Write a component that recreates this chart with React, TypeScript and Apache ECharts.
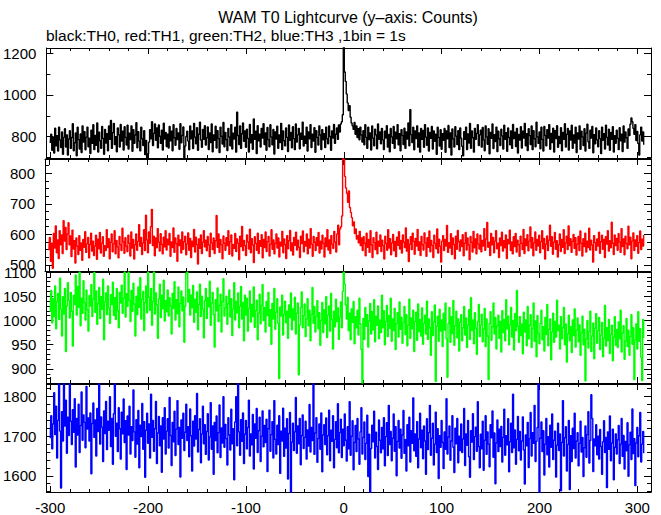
import React, { useEffect, useRef } from "react";
import * as echarts from "echarts";

// time of the first 1 s bin (seconds from T0)
const T_START = -300;

// TH0 (black) counts per 1 s bin, t = -300 .. 307
const th0 = [
  770, 812, 735, 798, 722, 841, 756, 805, 731, 846, 784, 748, 823, 716, 797, 838, 751, 809, 712, 789,
  829, 744, 796, 862, 733, 771, 818, 709, 845, 786, 741, 813, 724, 852, 775, 824, 737, 798, 846, 752,
  793, 719, 831, 768, 857, 738, 806, 759, 866, 727, 822, 781, 745, 849, 792, 716, 835, 770, 814, 733,
  851, 788, 878, 744, 819, 863, 762, 800, 728, 842, 809, 751, 859, 779, 826, 736, 848, 797, 760, 855,
  741, 817, 786, 852, 730, 833, 769, 808, 867, 747, 824, 779, 732, 846, 790, 758, 829, 714, 782, 690,
  718, 774, 833, 790, 872, 758, 816, 861, 783, 842, 747, 856, 802, 768, 831, 736, 865, 789, 820, 753,
  812, 746, 849, 781, 826, 733, 857, 795, 759, 839, 786, 818, 740, 862, 771, 806, 847, 692, 755, 801,
  826, 779, 737, 851, 790, 828, 743, 864, 798, 766, 843, 735, 812, 869, 784, 749, 835, 787, 853, 760,
  795, 847, 739, 818, 772, 861, 728, 808, 783, 850, 746, 829, 791, 724, 846, 802, 765, 868, 752, 821,
  786, 734, 840, 799, 757, 858, 741, 817, 789, 845, 726, 918, 806, 763, 852, 744, 814, 866, 778, 827,
  749, 836, 792, 727, 859, 771, 810, 740, 885, 788, 826, 719, 853, 780, 812, 751, 840, 793, 862, 763,
  818, 735, 844, 786, 752, 857, 799, 761, 835, 717, 823, 789, 850, 745, 808, 772, 864, 738, 827, 781,
  756, 842, 797, 729, 856, 783, 821, 747, 848, 791, 738, 861, 774, 809, 840, 742, 817, 788, 870, 755,
  803, 768, 846, 731, 823, 790, 858, 748, 812, 779, 843, 725, 829, 796, 760, 852, 808, 739, 834, 785,
  815, 748, 846, 790, 766, 851, 801, 735, 828, 794, 859, 768, 812, 842, 787, 856, 822, 861, 872, 905,
  1240, 1110, 1065, 1005, 962, 925, 948, 893, 866, 852, 835, 868, 812, 851, 796, 838, 785, 846, 808, 775,
  829, 761, 857, 797, 744, 845, 786, 818, 736, 851, 793, 757, 836, 809, 742, 861, 788, 823, 766, 840,
  785, 739, 826, 794, 853, 750, 811, 728, 839, 799, 768, 849, 745, 822, 790, 858, 761, 815, 733, 834,
  806, 763, 841, 744, 823, 789, 866, 757, 930, 810, 772, 845, 737, 828, 791, 852, 750, 818, 726, 839,
  787, 830, 749, 858, 798, 759, 842, 731, 821, 792, 849, 741, 827, 778, 812, 716, 845, 796, 755, 833,
  740, 815, 783, 839, 725, 827, 790, 854, 748, 818, 712, 837, 789, 751, 848, 803, 762, 829, 738, 842,
  793, 754, 708, 824, 787, 846, 739, 813, 770, 863, 745, 827, 795, 726, 840, 788, 816, 857, 758, 809,
  831, 750, 844, 785, 733, 852, 799, 764, 838, 718, 820, 792, 861, 743, 810, 777, 846, 729, 826, 790,
  758, 836, 804, 741, 855, 787, 819, 730, 842, 796, 761, 828, 744, 859, 791, 822, 753, 840, 722, 811,
  784, 848, 746, 826, 793, 864, 757, 815, 734, 838, 805, 763, 851, 738, 829, 790, 752, 869, 799, 768,
  823, 742, 845, 787, 731, 849, 806, 756, 834, 793, 858, 740, 816, 772, 841, 727, 829, 791, 853, 749,
  801, 767, 843, 733, 821, 788, 862, 751, 812, 839, 736, 827, 784, 855, 745, 808, 770, 846, 724, 818,
  789, 852, 740, 826, 799, 758, 838, 731, 817, 860, 776, 744, 831, 793, 849, 723, 810, 766, 842, 785,
  752, 829, 791, 719, 846, 783, 814, 741, 855, 797, 760, 836, 735, 820, 788, 848, 727, 805, 769, 831,
  792, 738, 843, 781, 812, 729, 851, 774, 823, 795, 744, 837, 806, 860, 890, 872, 840, 812, 858, 782,
  825, 768, 712, 809, 846, 779, 823, 761,
];

// TH1 (red)
const th1 = [
  548, 590, 512, 571, 489, 603, 555, 628, 540, 582, 521, 612, 566, 598, 537, 645, 578, 623, 550, 601,
  638, 566, 595, 527, 614, 552, 579, 506, 588, 561, 534, 596, 548, 572, 515, 583, 558, 609, 541, 569,
  590, 523, 567, 604, 545, 578, 531, 562, 597, 518, 584, 553, 606, 539, 571, 592, 528, 563, 547, 615,
  557, 586, 520, 574, 601, 543, 569, 612, 536, 580, 559, 523, 593, 566, 547, 620, 575, 538, 589, 561,
  544, 597, 571, 529, 608, 555, 583, 519, 566, 601, 548, 577, 632, 561, 590, 534, 572, 615, 547, 663,
  582, 540, 608, 571, 625, 682, 563, 594, 530, 588, 556, 619, 574, 545, 602, 567, 536, 591, 559, 612,
  549, 584, 566, 603, 528, 575, 557, 621, 541, 588, 570, 512, 597, 563, 582, 539, 608, 551, 576, 594,
  533, 569, 605, 548, 587, 524, 578, 560, 616, 542, 591, 567, 503, 585, 554, 598, 537, 574, 612, 559,
  581, 546, 593, 565, 527, 604, 572, 550, 588, 537, 579, 662, 558, 601, 541, 583, 566, 520, 595, 571,
  548, 589, 563, 612, 535, 576, 598, 529, 567, 554, 603, 544, 585, 571, 517, 594, 560, 626, 547, 580,
  563, 531, 598, 575, 552, 617, 540, 586, 565, 508, 592, 570, 548, 604, 537, 579, 561, 599, 523, 583,
  557, 608, 544, 576, 593, 529, 568, 615, 551, 582, 536, 571, 601, 555, 588, 526, 574, 562, 610, 540,
  585, 567, 521, 596, 553, 579, 613, 546, 572, 532, 590, 564, 607, 549, 581, 558, 524, 594, 570, 611,
  543, 577, 562, 601, 536, 584, 555, 619, 568, 528, 593, 574, 547, 589, 563, 606, 539, 578, 552, 597,
  571, 526, 588, 560, 615, 549, 582, 537, 596, 568, 554, 610, 575, 542, 601, 630, 566, 618, 625, 660,
  850, 845, 790, 752, 735, 705, 742, 688, 672, 655, 628, 641, 603, 618, 585, 596, 572, 610, 563, 588,
  547, 592, 571, 530, 604, 558, 583, 541, 612, 566, 524, 589, 573, 550, 607, 536, 578, 561, 598, 544,
  581, 563, 519, 594, 570, 548, 615, 555, 586, 533, 572, 600, 546, 577, 527, 591, 564, 609, 552, 580,
  539, 598, 574, 557, 621, 545, 583, 511, 568, 592, 550, 604, 577, 535, 587, 562, 616, 548, 575, 531,
  593, 566, 549, 605, 572, 528, 589, 558, 611, 543, 580, 564, 524, 597, 570, 553, 618, 539, 584, 561,
  509, 578, 596, 547, 583, 562, 629, 541, 573, 555, 602, 534, 588, 567, 520, 594, 551, 613, 576, 545,
  582, 560, 599, 530, 571, 606, 549, 588, 565, 517, 593, 574, 542, 610, 556, 585, 536, 601, 568, 552,
  597, 543, 580, 562, 619, 548, 585, 639, 558, 574, 531, 603, 566, 590, 540, 578, 612, 553, 571, 524,
  588, 563, 607, 545, 579, 556, 598, 521, 583, 569, 614, 547, 575, 536, 592, 560, 603, 542, 581, 566,
  528, 594, 571, 550, 616, 537, 585, 563, 599, 546, 578, 624, 555, 589, 530, 572, 608, 548, 583, 562,
  597, 540, 576, 612, 553, 587, 519, 568, 595, 547, 581, 630, 561, 592, 535, 574, 606, 551, 579, 526,
  566, 601, 544, 583, 558, 615, 537, 572, 594, 550, 628, 563, 586, 541, 577, 600, 554, 589, 532, 568,
  593, 547, 611, 571, 529, 586, 560, 604, 542, 578, 557, 620, 549, 581, 565, 509, 596, 573, 548, 585,
  562, 607, 538, 576, 597, 551, 583, 524, 592, 568, 612, 545, 579, 556, 640, 571, 534, 598, 563, 587,
  548, 602, 575, 541, 619, 560, 585, 533, 594, 570, 553, 627, 566, 591, 520, 578, 605, 547, 582, 561,
  596, 538, 573, 611, 550, 584, 562, 598,
];

// TH2 (green)
const th2 = [
  1018, 1062, 995, 1045, 1008, 1071, 983, 1039, 1056, 1002, 1087, 1024, 968, 1049, 1013, 1066, 936, 1030, 1078, 1041,
  1005, 1058, 1019, 947, 1052, 1033, 1094, 1011, 1070, 1027, 1100, 989, 1046, 1015, 1082, 1037, 1001, 1063, 1022, 978,
  1051, 1030, 1074, 1008, 1044, 1099, 1017, 1061, 992, 1035, 1068, 1004, 1049, 1023, 1085, 960, 1038, 1057, 1012, 1071,
  1026, 994, 1053, 1033, 1079, 1010, 1047, 1002, 1066, 1020, 985, 1058, 1036, 1073, 1015, 1046, 1100, 1007, 1055, 1029,
  1100, 1041, 998, 1062, 1019, 1077, 1034, 968, 1050, 1012, 1069, 1027, 1088, 1003, 1044, 1060, 979, 1037, 1071, 1016,
  1100, 1048, 1021, 1066, 990, 1039, 1100, 1013, 1057, 1032, 963, 1045, 1075, 1006, 1052, 1024, 1083, 999, 1041, 1018,
  1063, 1009, 1047, 1030, 972, 1056, 1025, 1080, 1001, 1043, 1014, 1069, 987, 1035, 1061, 1020, 1048, 955, 1029, 1097,
  1100, 1038, 1064, 1011, 1052, 1026, 1072, 996, 1044, 1017, 1059, 981, 1033, 1075, 1008, 1050, 1023, 964, 1041, 1066,
  1004, 1047, 1028, 1081, 990, 1036, 1058, 1012, 945, 1043, 1020, 1067, 998, 1031, 1054, 976, 1039, 1086, 1009, 1026,
  1050, 992, 1034, 1063, 1007, 1045, 969, 1024, 1078, 1001, 1040, 1016, 1057, 985, 1029, 1070, 1003, 1037, 958, 1052,
  1011, 1046, 978, 1025, 1061, 997, 1033, 1008, 1069, 986, 1020, 1042, 960, 1015, 1054, 993, 1031, 1074, 1000, 1027,
  976, 1039, 1010, 1058, 988, 1022, 951, 1035, 1003, 1066, 982, 1017, 1045, 994, 880, 1028, 1009, 1052, 970, 1013,
  1040, 995, 1019, 963, 1032, 1006, 1057, 981, 1024, 1001, 1048, 972, 1015, 1036, 888, 990, 1027, 1059, 985, 1010,
  1034, 967, 1003, 1045, 989, 1021, 958, 1012, 1068, 994, 1029, 976, 1008, 1041, 983, 1016, 949, 1000, 1037, 975,
  1022, 993, 1049, 965, 1011, 1030, 978, 1056, 1002, 941, 1019, 987, 1044, 998, 1026, 961, 1007, 1038, 985, 1060,
  1100, 1075, 1032, 1003, 1048, 979, 1015, 960, 1024, 996, 1039, 952, 1008, 985, 1021, 970, 1046, 993, 940, 871,
  1004, 961, 1027, 988, 1012, 945, 999, 1035, 972, 1018, 981, 1043, 956, 1009, 990, 1030, 962, 1001, 975, 1052,
  985, 1020, 950, 998, 1031, 967, 1010, 984, 1046, 957, 1003, 979, 1025, 940, 994, 1016, 966, 1038, 982, 1007,
  953, 996, 1029, 971, 1012, 948, 990, 1044, 963, 1005, 983, 1021, 936, 998, 1017, 959, 1034, 977, 1002, 968,
  1026, 951, 994, 1011, 972, 1040, 961, 1003, 985, 928, 1018, 969, 997, 1032, 874, 988, 1009, 957, 1023, 978,
  1001, 946, 1015, 980, 1036, 962, 883, 994, 1027, 955, 1008, 973, 1041, 949, 989, 1019, 964, 1003, 937, 996,
  1012, 958, 985, 1029, 970, 1005, 944, 990, 1022, 961, 1047, 979, 1001, 952, 1016, 984, 930, 998, 1033, 967,
  991, 1013, 956, 982, 1025, 946, 1003, 968, 878, 994, 1018, 959, 987, 1036, 972, 1006, 941, 989, 1011, 963,
  998, 935, 1020, 975, 1002, 958, 1043, 983, 1009, 950, 991, 1027, 966, 1000, 939, 1014, 979, 1062, 988, 955,
  1008, 969, 993, 931, 1017, 976, 1001, 948, 1029, 962, 990, 1012, 944, 984, 1036, 957, 999, 925, 1010, 973,
  952, 994, 1021, 960, 987, 937, 1006, 971, 1033, 948, 982, 1003, 919, 976, 1015, 955, 998, 966, 1042, 979,
  990, 941, 1008, 962, 985, 1027, 950, 993, 914, 972, 1011, 958, 987, 934, 1001, 969, 1024, 945, 980, 1005,
  956, 991, 928, 974, 1009, 950, 982, 875, 962, 1000, 943, 977, 1019, 936, 968, 995, 921, 984, 1014, 953,
  979, 1006, 940, 970, 996, 925, 963, 1031, 947, 985, 958, 1002, 932, 971, 990, 917, 966, 1008, 949, 981,
  944, 997, 962, 1021, 935, 974, 989, 920, 958, 1004, 946, 980, 928, 967, 1012, 951, 985, 878, 960, 993,
  941, 1018, 957, 983, 924, 876, 1002, 964,
];

// TH3 (blue)
const th3 = [
  1695, 1752, 1668, 1731, 1810, 1704, 1776, 1645, 1740, 1835, 1713, 1569, 1762, 1688, 1835, 1726, 1791, 1657, 1748, 1702,
  1835, 1738, 1679, 1767, 1710, 1795, 1622, 1745, 1703, 1781, 1659, 1727, 1812, 1690, 1754, 1735, 1671, 1826, 1718, 1746,
  1688, 1759, 1605, 1732, 1784, 1697, 1741, 1650, 1770, 1712, 1835, 1680, 1749, 1723, 1636, 1764, 1707, 1788, 1666, 1738,
  1715, 1800, 1674, 1745, 1629, 1757, 1835, 1700, 1733, 1661, 1772, 1719, 1642, 1761, 1706, 1794, 1684, 1739, 1616, 1751,
  1703, 1776, 1655, 1724, 1689, 1817, 1711, 1647, 1742, 1680, 1765, 1620, 1728, 1699, 1783, 1667, 1737, 1596, 1715, 1758,
  1682, 1731, 1645, 1806, 1697, 1740, 1662, 1719, 1788, 1631, 1708, 1750, 1676, 1726, 1609, 1747, 1693, 1772, 1655, 1713,
  1744, 1670, 1798, 1702, 1626, 1735, 1686, 1763, 1651, 1718, 1790, 1679, 1722, 1597, 1741, 1695, 1758, 1664, 1710, 1781,
  1689, 1724, 1648, 1769, 1701, 1612, 1738, 1675, 1752, 1693, 1808, 1660, 1717, 1744, 1633, 1706, 1776, 1681, 1729, 1654,
  1712, 1757, 1640, 1698, 1785, 1667, 1726, 1604, 1735, 1689, 1751, 1658, 1709, 1779, 1646, 1721, 1683, 1800, 1672, 1730,
  1694, 1627, 1747, 1703, 1665, 1768, 1681, 1719, 1590, 1736, 1800, 1676, 1835, 1711, 1652, 1742, 1687, 1759, 1631, 1705,
  1740, 1668, 1722, 1791, 1650, 1706, 1678, 1755, 1617, 1731, 1695, 1770, 1659, 1714, 1748, 1636, 1700, 1764, 1673, 1727,
  1684, 1743, 1611, 1719, 1766, 1662, 1704, 1737, 1645, 1790, 1692, 1655, 1728, 1679, 1752, 1606, 1713, 1688, 1771, 1649,
  1720, 1670, 1744, 1592, 1707, 1760, 1553, 1685, 1733, 1664, 1711, 1798, 1657, 1726, 1681, 1745, 1628, 1702, 1754, 1669,
  1697, 1738, 1642, 1716, 1675, 1780, 1660, 1722, 1689, 1835, 1654, 1708, 1747, 1634, 1694, 1731, 1667, 1759, 1610, 1703,
  1729, 1679, 1746, 1653, 1701, 1766, 1638, 1715, 1687, 1752, 1620, 1692, 1737, 1671, 1782, 1658, 1709, 1743, 1646, 1718,
  1676, 1756, 1690, 1637, 1724, 1668, 1787, 1652, 1700, 1739, 1615, 1684, 1727, 1661, 1745, 1693, 1629, 1711, 1772, 1655,
  1697, 1736, 1641, 1682, 1753, 1598, 1705, 1555, 1669, 1728, 1686, 1763, 1645, 1710, 1674, 1616, 1741, 1690, 1658, 1722,
  1668, 1747, 1625, 1699, 1734, 1651, 1778, 1679, 1712, 1638, 1695, 1756, 1662, 1724, 1600, 1687, 1740, 1670, 1718, 1644,
  1703, 1765, 1657, 1691, 1612, 1729, 1676, 1748, 1635, 1714, 1682, 1797, 1663, 1706, 1649, 1737, 1620, 1693, 1758, 1671,
  1715, 1643, 1726, 1688, 1604, 1744, 1666, 1709, 1778, 1652, 1695, 1733, 1627, 1680, 1761, 1659, 1719, 1593, 1701, 1672,
  1740, 1684, 1618, 1711, 1667, 1795, 1655, 1698, 1726, 1639, 1688, 1752, 1672, 1608, 1720, 1681, 1745, 1633, 1700, 1664,
  1731, 1659, 1693, 1770, 1626, 1706, 1677, 1740, 1648, 1596, 1714, 1685, 1757, 1641, 1699, 1723, 1662, 1787, 1674, 1620,
  1705, 1668, 1738, 1614, 1690, 1752, 1654, 1711, 1680, 1623, 1729, 1696, 1764, 1647, 1708, 1580, 1683, 1741, 1661, 1718,
  1674, 1725, 1635, 1697, 1768, 1652, 1701, 1678, 1744, 1610, 1686, 1733, 1659, 1806, 1671, 1716, 1629, 1692, 1750, 1663,
  1712, 1640, 1688, 1749, 1665, 1579, 1703, 1676, 1735, 1621, 1694, 1760, 1650, 1709, 1682, 1778, 1636, 1687, 1722, 1835,
  1555, 1695, 1736, 1661, 1714, 1602, 1680, 1745, 1653, 1699, 1622, 1728, 1672, 1756, 1641, 1690, 1713, 1597, 1677, 1733,
  1664, 1706, 1562, 1684, 1790, 1650, 1696, 1724, 1612, 1679, 1740, 1565, 1701, 1636, 1720, 1669, 1758, 1645, 1688, 1709,
  1625, 1682, 1738, 1660, 1697, 1598, 1671, 1726, 1647, 1704, 1762, 1632, 1689, 1805, 1745, 1611, 1693, 1676, 1729, 1653,
  1700, 1642, 1717, 1674, 1604, 1686, 1739, 1659, 1697, 1570, 1711, 1667, 1751, 1638, 1683, 1718, 1590, 1672, 1706, 1655,
  1691, 1727, 1631, 1680, 1745, 1649, 1702, 1617, 1687, 1663, 1734, 1599, 1678, 1710, 1641, 1769, 1656, 1694, 1575, 1683,
  1722, 1648, 1701, 1760, 1635, 1680, 1712, 1657,
];

const seriesData = [th0, th1, th2, th3];
const seriesNames = ["TH0", "TH1", "TH2", "TH3"];
const seriesColors = ["#000000", "#ff0000", "#00ff00", "#0000ff"];

// x axis (seconds)
const X_MIN = -304;
const X_MAX = 314;
const xLabelTicks = [-300, -200, -100, 0, 100, 200, 300];
const X_MINOR_STEP = 20;

// y axis per panel
const yRanges = [
  [698, 1225],
  [480, 847],
  [871, 1100],
  [1559, 1832],
];
const yLabelTicks = [
  [800, 1000, 1200],
  [500, 600, 700, 800],
  [900, 950, 1000, 1050, 1100],
  [1600, 1700, 1800],
];
const yMinorSteps = [100, 25, 10, 20];

const TITLE = "WAM T0 Lightcurve (y\u2013axis: Counts)";
const SUBTITLE = "black:TH0, red:TH1, green:TH2, blue:TH3 ,1bin = 1s";

const GRID_TOPS = [48, 159, 272, 384];
const GRID_HEIGHTS = [110, 112, 111, 109];

const FONT = '"Liberation Sans", Arial, Helvetica, sans-serif';

function stepValues(min: number, max: number, step: number): number[] {
  const out: number[] = [];
  const start = Math.ceil(min / step) * step;
  for (let v = start; v <= max + 1e-9; v += step) out.push(v);
  return out;
}

function buildOption() {
  const grid = GRID_TOPS.map((top, i) => ({
    left: 45,
    right: 10,
    top,
    height: GRID_HEIGHTS[i],
    containLabel: false,
  }));

  const xMinor = stepValues(X_MIN, X_MAX, X_MINOR_STEP);
  const xAxis: any[] = [];
  const yAxis: any[] = [];

  const tickStyle = { color: "#000", width: 1 };

  const mkAxis = (
    gridIndex: number,
    position: string,
    min: number,
    max: number,
    ticks: number[],
    len: number,
    line: boolean,
    labels: number[] | null,
    isX: boolean
  ) => ({
    type: "value",
    gridIndex,
    position,
    min,
    max,
    axisLine: { show: line, onZero: false, lineStyle: { color: "#000", width: 1 } },
    axisTick: { show: true, inside: true, length: len, customValues: ticks, lineStyle: tickStyle },
    axisLabel: labels
      ? {
          show: true,
          customValues: labels,
          margin: isX ? 8 : 10,
          color: "#000",
          fontSize: 15,
          fontFamily: FONT,
          showMinLabel: true,
          showMaxLabel: true,
          formatter: (v: number) => String(v),
        }
      : { show: false },
    splitLine: { show: false },
    minorTick: { show: false },
    silent: true,
  });

  for (let i = 0; i < 4; i++) {
    const [ymin, ymax] = yRanges[i];
    const yMinor = stepValues(ymin, ymax, yMinorSteps[i]);
    const yMajor = yLabelTicks[i];
    xAxis.push(mkAxis(i, "bottom", X_MIN, X_MAX, xLabelTicks, 6, true, i === 3 ? xLabelTicks : null, true));
    xAxis.push(mkAxis(i, "bottom", X_MIN, X_MAX, xMinor, 3, false, null, true));
    xAxis.push(mkAxis(i, "top", X_MIN, X_MAX, xLabelTicks, 6, true, null, true));
    xAxis.push(mkAxis(i, "top", X_MIN, X_MAX, xMinor, 3, false, null, true));
    yAxis.push(mkAxis(i, "left", ymin, ymax, yMajor, 7, true, yMajor, false));
    yAxis.push(mkAxis(i, "left", ymin, ymax, yMinor, 4, false, null, false));
    yAxis.push(mkAxis(i, "right", ymin, ymax, yMajor, 7, true, null, false));
    yAxis.push(mkAxis(i, "right", ymin, ymax, yMinor, 4, false, null, false));
  }

  const series = seriesData.map((vals, i) => ({
    type: "line",
    name: seriesNames[i],
    xAxisIndex: 4 * i,
    yAxisIndex: 4 * i,
    data: vals.map((v, j) => [T_START + j, v]),
    showSymbol: false,
    symbol: "none",
    step: "middle",
    clip: true,
    silent: true,
    lineStyle: { color: seriesColors[i], width: 1.4 },
    itemStyle: { color: seriesColors[i] },
    z: 1,
  }));

  return {
    animation: false,
    backgroundColor: "#ffffff",
    grid,
    xAxis,
    yAxis,
    series,
    graphic: [
      {
        type: "text",
        x: 348,
        y: 17,
        style: {
          text: TITLE,
          fill: "#000",
          font: `16px ${FONT}`,
          align: "center",
          verticalAlign: "middle",
        },
      },
      {
        type: "text",
        x: 46,
        y: 35,
        style: {
          text: SUBTITLE,
          fill: "#000",
          font: `15.5px ${FONT}`,
          align: "left",
          verticalAlign: "middle",
        },
      },
    ],
  };
}

export default function App() {
  const ref = useRef<HTMLDivElement>(null);
  useEffect(() => {
    if (!ref.current) return;
    const chart = echarts.init(ref.current, null, { renderer: "svg" });
    chart.setOption(buildOption() as any);
    return () => chart.dispose();
  }, []);
  return (
    <div
      ref={ref}
      style={{ position: "fixed", left: 0, top: 0, width: 661, height: 515, background: "#fff" }}
    />
  );
}
